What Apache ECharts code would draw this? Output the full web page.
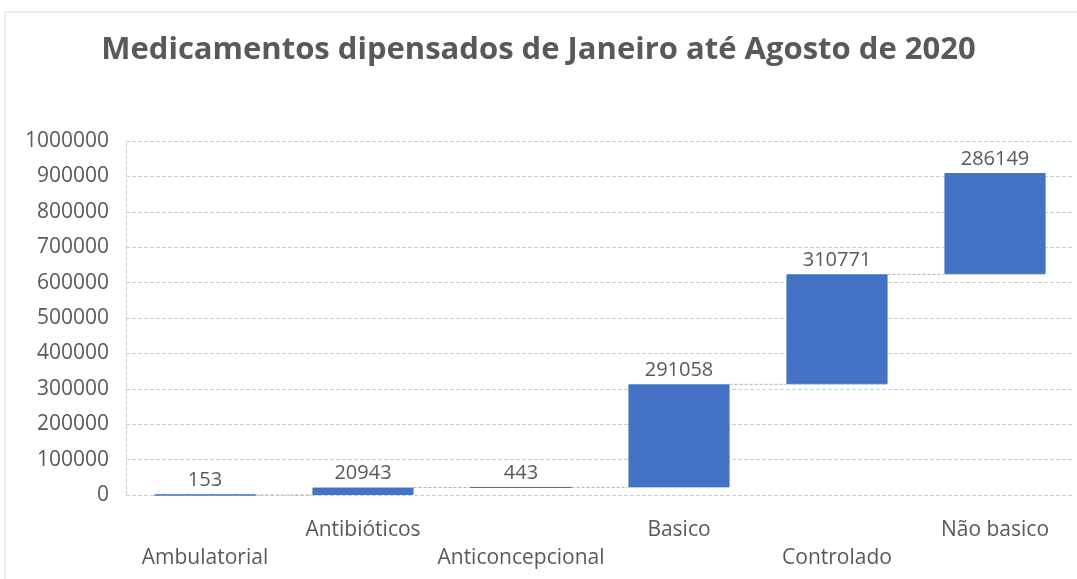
<!DOCTYPE html>
<html>
<head>
<meta charset="utf-8">
<script src="https://cdn.jsdelivr.net/npm/echarts@6/dist/echarts.min.js"></script>
<style>
html, body { margin: 0; padding: 0; background: #fff; }
#main { width: 1077px; height: 579px; }
</style>
</head>
<body>
<div id="main"></div>
<script>
var categories = ['Ambulatorial', 'Antibióticos', 'Anticoncepcional', 'Basico', 'Controlado', 'Não basico'];
var values = [153, 20943, 443, 291058, 310771, 286149];
var yTicks = { min: 0, max: 1000000, step: 100000 };

// waterfall: invisible base + visible step
var baseData = [];
var topData = [];
var running = 0;
for (var i = 0; i < values.length; i++) {
    baseData.push(running);
    running += values[i];
    topData.push(running);
}
var connectors = [];
for (var j = 0; j < topData.length - 1; j++) {
    connectors.push([j, topData[j]]);
}

var BAR_FRAC = 0.64;
var textColor = '#595959';
var fontFam = '"Open Sans", "Noto Sans", sans-serif';

var chart = echarts.init(document.getElementById('main'));
chart.setOption({
    animation: false,
    graphic: [{
        type: 'rect',
        shape: { x: 5, y: 12, width: 1090, height: 600 },
        style: { fill: 'none', stroke: '#d9d9d9', lineWidth: 1 },
        silent: true
    }],
    title: {
        text: 'Medicamentos dipensados de Janeiro até Agosto de 2020',
        left: 'center',
        top: 30,
        textStyle: { color: textColor, fontSize: 31, fontWeight: 'bold', fontFamily: fontFam }
    },
    grid: { left: 126, right: 3, top: 141, bottom: 84 },
    xAxis: {
        type: 'category',
        data: categories,
        axisTick: { show: false },
        axisLine: { show: false },
        axisLabel: {
            interval: 0,
            margin: 21,
            color: textColor,
            fontSize: 21,
            lineHeight: 28,
            fontFamily: fontFam,
            formatter: function (v, idx) {
                return idx % 2 === 0 ? '\n' + v : v;
            }
        }
    },
    yAxis: {
        type: 'value',
        min: yTicks.min,
        max: yTicks.max,
        interval: yTicks.step,
        axisLine: { show: true, lineStyle: { color: '#d0d0d0', type: 'dashed' } },
        axisTick: { show: false },
        axisLabel: {
            color: textColor, fontSize: 21, margin: 17, fontFamily: fontFam,
            formatter: function (v) { return String(v); }
        },
        splitLine: { lineStyle: { color: '#d0d0d0', type: 'dashed' } }
    },
    series: [
        {
            type: 'bar',
            stack: 'wf',
            barWidth: (BAR_FRAC * 100) + '%',
            itemStyle: { color: 'transparent' },
            data: baseData,
            silent: true
        },
        {
            type: 'bar',
            stack: 'wf',
            itemStyle: { color: '#4472C4', borderColor: '#4472C4', borderWidth: 1 },
            label: {
                show: true,
                position: 'top',
                distance: 4,
                color: textColor,
                fontSize: 20,
                fontFamily: fontFam
            },
            data: values
        },
        {
            type: 'custom',
            silent: true,
            data: connectors,
            renderItem: function (params, api) {
                var p = api.coord([api.value(0), api.value(1)]);
                var bw = api.size([1, 0])[0];
                var x1 = p[0] + bw * BAR_FRAC / 2;
                var x2 = p[0] + bw - bw * BAR_FRAC / 2;
                return {
                    type: 'line',
                    shape: { x1: x1, y1: p[1], x2: x2, y2: p[1] },
                    style: { stroke: '#b0b0b0', lineWidth: 1, lineDash: [3, 2] }
                };
            }
        }
    ]
});
</script>
</body>
</html>
